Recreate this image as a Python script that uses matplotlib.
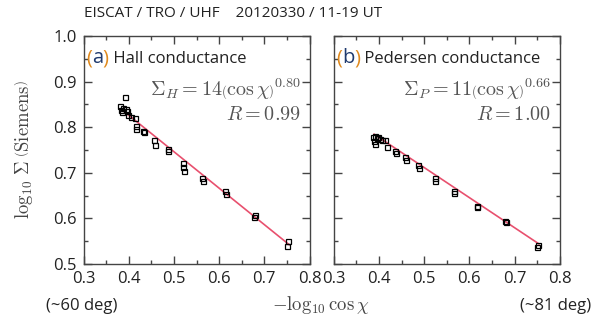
import numpy as np
import matplotlib
matplotlib.use("Agg")
import matplotlib.pyplot as plt
from matplotlib.ticker import MultipleLocator
from matplotlib.transforms import offset_copy

plt.rcParams['font.family'] = ['Open Sans', 'DejaVu Sans']
plt.rcParams['mathtext.fontset'] = 'cm'

# -log10(cos chi) and log10(conductance) samples
hall_x = [0.381, 0.383, 0.386, 0.388, 0.391, 0.393, 0.396, 0.399, 0.404, 0.413,
          0.415, 0.417, 0.431, 0.433, 0.456, 0.458, 0.486, 0.487, 0.521, 0.521,
          0.522, 0.563, 0.564, 0.614, 0.615, 0.678, 0.680, 0.750, 0.753]
hall_y = [0.846, 0.838, 0.833, 0.843, 0.867, 0.840, 0.836, 0.826, 0.822, 0.820,
          0.803, 0.796, 0.791, 0.789, 0.772, 0.760, 0.753, 0.747, 0.721, 0.712,
          0.704, 0.688, 0.681, 0.661, 0.653, 0.604, 0.608, 0.540, 0.550]

ped_x = [0.386, 0.388, 0.390, 0.392, 0.395, 0.398, 0.402, 0.406, 0.413, 0.418,
         0.436, 0.438, 0.458, 0.460, 0.486, 0.488, 0.523, 0.524, 0.565, 0.566,
         0.616, 0.617, 0.678, 0.680, 0.749, 0.752]
ped_y = [0.778, 0.770, 0.763, 0.781, 0.776, 0.779, 0.774, 0.771, 0.772, 0.757,
         0.748, 0.743, 0.734, 0.729, 0.718, 0.711, 0.688, 0.682, 0.659, 0.655,
         0.627, 0.624, 0.594, 0.591, 0.537, 0.541]

# fit: Sigma = A (cos chi)^b
hall_A, hall_b, hall_R = 14, 0.80, 0.99
ped_A, ped_b, ped_R = 11, 0.66, 1.00

fig = plt.figure(figsize=(5.93, 3.25), dpi=100)
ax1 = fig.add_axes([0.141, 0.188, 0.381, 0.701])
ax2 = fig.add_axes([0.563, 0.188, 0.381, 0.701])

panels = [
    (ax1, hall_x, hall_y, hall_A, hall_b, hall_R, 'a', 'Hall conductance', 'H'),
    (ax2, ped_x, ped_y, ped_A, ped_b, ped_R, 'b', 'Pedersen conductance', 'P'),
]

renderer = fig.canvas.get_renderer()


def chain_text(ax, x, y, parts):
    # draw coloured pieces one after the other on one line
    t = ax.transAxes
    for s, c, fs in parts:
        txt = ax.text(x, y, s, color=c, fontsize=fs, transform=t,
                      va='baseline', ha='left')
        w = txt.get_window_extent(renderer).width
        t = offset_copy(t, x=w, units='dots', fig=fig)


for ax, x, y, A, b, R, tag, name, sub in panels:
    xf = np.array([min(x) + 0.003, max(x) + 0.002])
    ax.plot(xf, np.log10(A) - b * xf, color='#e8506e', lw=1.2, zorder=2)
    ax.plot(x, y, ls='none', marker='s', ms=3.6, mfc='none', mec='black',
            mew=0.9, zorder=3)

    ax.set_xlim(0.3, 0.8)
    ax.set_ylim(0.5, 1.0)
    ax.xaxis.set_major_locator(MultipleLocator(0.1))
    ax.xaxis.set_minor_locator(MultipleLocator(0.05))
    ax.yaxis.set_major_locator(MultipleLocator(0.1))
    ax.yaxis.set_minor_locator(MultipleLocator(0.05))
    ax.tick_params(which='both', direction='in', top=True, right=True,
                   color='#444444', labelcolor='#222222', labelsize=12, pad=5)
    ax.tick_params(which='major', length=6, width=1)
    ax.tick_params(which='minor', length=3, width=1)
    for s in ax.spines.values():
        s.set_color('#444444')
        s.set_linewidth(1)

    chain_text(ax, 0.01, 0.88, [('(', '#e08a1e', 14.5), (tag, '#1f3a6e', 14.5),
                                (')', '#e08a1e', 14.5),
                                (' ' + name, '#222222', 12)])
    ax.text(0.96, 0.735,
            r'$\Sigma_{%s}=%d\left(\cos\chi\right)^{%.2f}$' % (sub, A, b),
            color='#555555', fontsize=14.5, transform=ax.transAxes,
            va='baseline', ha='right')
    ax.text(0.96, 0.63, r'$R=%.2f$' % R, color='#555555', fontsize=14.5,
            transform=ax.transAxes, va='baseline', ha='right')

ax1.set_yticks([0.5, 0.6, 0.7, 0.8, 0.9, 1.0])
ax1.set_yticklabels(['0.5', '0.6', '0.7', '0.8', '0.9', '1.0'])
ax2.set_yticklabels([])
for ax in (ax1, ax2):
    ax.set_xticks([0.3, 0.4, 0.5, 0.6, 0.7, 0.8])
    ax.set_xticklabels(['0.3', '0.4', '0.5', '0.6', '0.7', '0.8'])

fig.text(0.141, 0.957, 'EISCAT / TRO / UHF    20120330 / 11-19 UT',
         fontsize=11, color='#222222', ha='left', va='center')
fig.text(0.04, 0.54, r'$\log_{10}\,\Sigma\;\left(\mathrm{Siemens}\right)$',
         rotation=90, fontsize=13.5, color='#444444', ha='center', va='center')
fig.text(0.54, 0.06, r'$-\log_{10}\cos\chi$', fontsize=13.5, color='#444444',
         ha='center', va='center')
fig.text(0.138, 0.06, '(~60 deg)', fontsize=12, color='#222222',
         ha='center', va='center')
fig.text(0.997, 0.06, '(~81 deg)', fontsize=12, color='#222222',
         ha='right', va='center')

fig.savefig('out.png', dpi=100)
